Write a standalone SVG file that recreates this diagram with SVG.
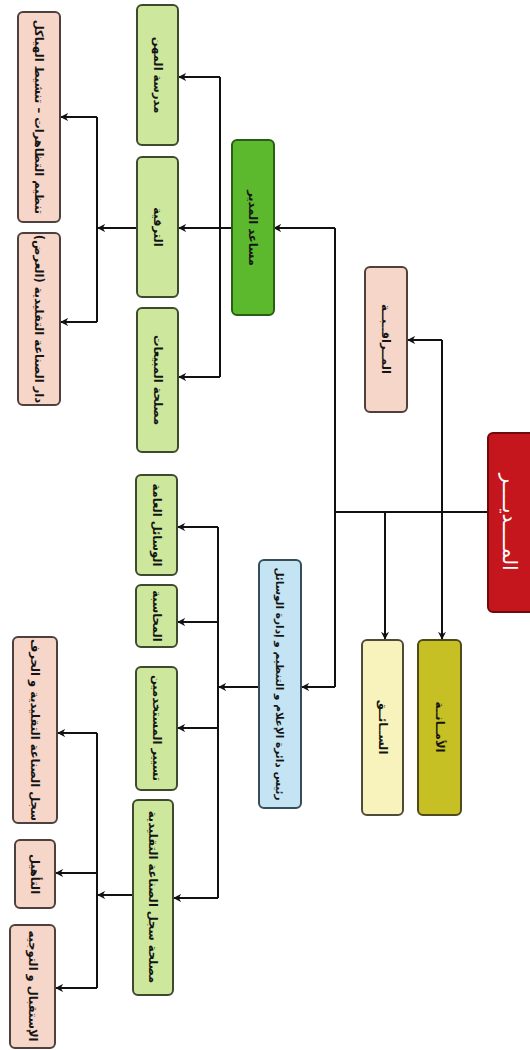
<svg xmlns="http://www.w3.org/2000/svg" width="530" height="1050" viewBox="0 0 530 1050">
<defs>
<marker id="ah" viewBox="0 0 10 10" refX="9" refY="5" markerWidth="8" markerHeight="8" markerUnits="userSpaceOnUse" orient="auto">
<path d="M0,0 L10,5 L0,10 L3,5 Z" fill="#111"/>
</marker>
<style>
.box{stroke:#3c3c3c;stroke-width:2}
.lg{fill:#cde89c;stroke:#3e4a2e}
.dg{fill:#5cb82c;stroke:#2a5e12}
.pk{fill:#f6d6c8;stroke:#4e403c}
.rd{fill:#c4161c;stroke:#6e0a0a}
.py{fill:#f8f3bc;stroke:#4e4c38}
.ol{fill:#c6c024;stroke:#4e4a1c}
.bl{fill:#c4e4f3;stroke:#364e5a}
.t{font-family:"DejaVu Sans",sans-serif;font-weight:bold;font-size:11.5px;fill:#141414;text-anchor:middle;dominant-baseline:central}
.ts{font-size:10.5px}
.tw{fill:#ffffff;font-size:20px;font-weight:normal}
.c{fill:none;stroke:#111;stroke-width:2}
.ca{fill:none;stroke:#111;stroke-width:2;marker-end:url(#ah)}
</style>
</defs>
<rect width="530" height="1050" fill="#ffffff"/>
<g id="connectors">
<path class="c" d="M488,512 H335"/>
<path class="c" d="M335,228 V687"/>
<path class="ca" d="M335,228 H274"/>
<path class="ca" d="M335,687 H302"/>
<path class="ca" d="M385,512 V639"/>
<path class="ca" d="M442,340 V639"/>
<path class="ca" d="M442,340 H408"/>
<path class="ca" d="M232,228 H179"/>
<path class="c" d="M220,77 V377"/>
<path class="ca" d="M220,77 H179"/>
<path class="ca" d="M220,377 H179"/>
<path class="ca" d="M137,228 H98"/>
<path class="c" d="M97,117 V322"/>
<path class="ca" d="M97,117 H61"/>
<path class="ca" d="M97,322 H61"/>
<path class="ca" d="M259,687 H219"/>
<path class="c" d="M218,527 V898"/>
<path class="ca" d="M218,527 H178"/>
<path class="ca" d="M218,622 H178"/>
<path class="ca" d="M218,728 H178"/>
<path class="ca" d="M218,898 H174"/>
<path class="ca" d="M133,895 H98"/>
<path class="c" d="M97,733 V988"/>
<path class="ca" d="M97,733 H58"/>
<path class="ca" d="M97,873 H56"/>
<path class="ca" d="M97,988 H56"/>
</g>
<g id="n-director"><rect class="box rd" x="488" y="433" width="48" height="179" rx="5"/><text class="t tw" transform="rotate(90 510 522)" x="510" y="522">المــــديــــر</text></g>
<g id="n-moraqaba"><rect class="box pk" x="365" y="267" width="42" height="145" rx="5"/><text class="t" transform="rotate(90 386 339)" x="386" y="339">المــراقــبــة</text></g>
<g id="n-sa2eq"><rect class="box py" x="362" y="640" width="41" height="175" rx="5"/><text class="t" transform="rotate(90 382.5 727)" x="382.5" y="727">الســائــق</text></g>
<g id="n-amana"><rect class="box ol" x="418" y="640" width="43" height="175" rx="5"/><text class="t" transform="rotate(90 439.5 727)" x="439.5" y="727">الأمــانــة</text></g>
<g id="n-assistant"><rect class="box dg" x="232" y="140" width="42" height="175" rx="5"/><text class="t" transform="rotate(90 253 228)" x="253" y="228">مساعد المدير</text></g>
<g id="n-blue"><rect class="box bl" x="259" y="560" width="42" height="248" rx="5"/><text class="t ts" transform="rotate(90 280 684)" x="280" y="684">رئيس دائرة الإعلام و التنظيم و إدارة الوسائل</text></g>
<g id="n-madrasa"><rect class="box lg" x="137" y="5" width="41" height="140" rx="5"/><text class="t" transform="rotate(90 157.5 75)" x="157.5" y="75">مدرسة المهن</text></g>
<g id="n-tarqiya"><rect class="box lg" x="137" y="157" width="41" height="140" rx="5"/><text class="t" transform="rotate(90 157.5 227)" x="157.5" y="227">الترقية</text></g>
<g id="n-mabi3at"><rect class="box lg" x="137" y="308" width="41" height="144" rx="5"/><text class="t" transform="rotate(90 157.5 380)" x="157.5" y="380">مصلحة المبيعات</text></g>
<g id="n-wasa2il"><rect class="box lg" x="136" y="475" width="41" height="100" rx="5"/><text class="t" transform="rotate(90 156.5 525)" x="156.5" y="525">الوسائل العامة</text></g>
<g id="n-mohasaba"><rect class="box lg" x="136" y="585" width="41" height="62" rx="5"/><text class="t" transform="rotate(90 156.5 616)" x="156.5" y="616">المحاسبة</text></g>
<g id="n-tasyir"><rect class="box lg" x="136" y="667" width="41" height="123" rx="5"/><text class="t" transform="rotate(90 156.5 728)" x="156.5" y="728">تسيير المستخدمين</text></g>
<g id="n-sijil"><rect class="box lg" x="133" y="800" width="40" height="195" rx="5"/><text class="t" transform="rotate(90 153 897)" x="153" y="897">مصلحة سجل الصناعة التقليدية</text></g>
<g id="n-tanzim"><rect class="box pk" x="18" y="12" width="42" height="210" rx="5"/><text class="t" transform="rotate(90 39 117)" x="39" y="117">تنظيم التظاهرات – تنشيط الهياكل</text></g>
<g id="n-dar"><rect class="box pk" x="18" y="233" width="42" height="172" rx="5"/><text class="t" transform="rotate(90 39 319)" x="39" y="319">دار الصناعة التقليدية (العرض)</text></g>
<g id="n-sijilhiraf"><rect class="box pk" x="13" y="637" width="44" height="186" rx="5"/><text class="t" transform="rotate(90 35 730)" x="35" y="730">سجل الصناعة التقليدية و الحرف</text></g>
<g id="n-ta2hil"><rect class="box pk" x="15" y="840" width="40" height="68" rx="5"/><text class="t" transform="rotate(90 35 874)" x="35" y="874">التأهيل</text></g>
<g id="n-istiqbal"><rect class="box pk" x="10" y="925" width="45" height="123" rx="5"/><text class="t" transform="rotate(90 32.5 986)" x="32.5" y="986">الإستقبال و التوجيه</text></g>
</svg>
